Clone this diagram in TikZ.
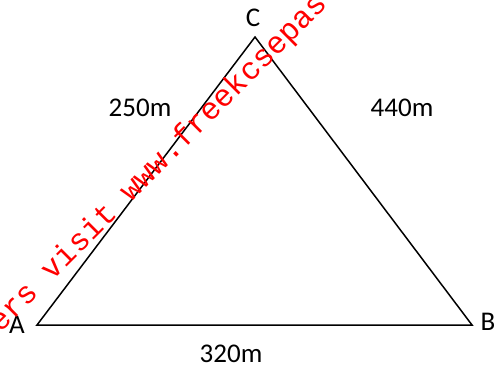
\documentclass[tikz,border=0pt]{standalone}
\usepackage{fontspec}
\setmainfont{Carlito}
\newfontfamily\wmfont{Liberation Mono}
\usepackage{tikz}
\usetikzlibrary{calc,positioning}
\definecolor{wmred}{RGB}{255,0,0}
\tikzset{lbl/.style={font=\fontsize{27}{30}\selectfont,inner sep=0pt},
  side/.style={line width=1.5pt,line join=miter}}

\begin{document}
\begin{tikzpicture}[x=1pt,y=1pt]
  \useasboundingbox (0,0) rectangle (494,369);
  \clip (0,0) rectangle (494,369);
  % triangle
  \coordinate (A) at (37,44); \coordinate (B) at (472,44); \coordinate (C) at (255,332);
  \draw[side] (A) -- (B) -- (C) -- cycle;
  % vertex labels
  \node[lbl] (lA) at (17,44) {A};
  \node[lbl] (lB) at (488,47) {B};
  \node[lbl] (lC) at (253,351) {C};
  % side lengths
  \node[lbl] (lAC) at (140,261) {250m};
  \node[lbl] (lBC) at (402,261) {440m};
  \node[lbl] (lAB) at (231,15) {320m};
  % watermark
  \node[font=\wmfont\fontsize{31}{31}\selectfont,text=wmred,rotate=45,anchor=base west,inner sep=0pt] (wm) at (0,35) {ers visit www.freekcsepas};
\end{tikzpicture}
\end{document}
